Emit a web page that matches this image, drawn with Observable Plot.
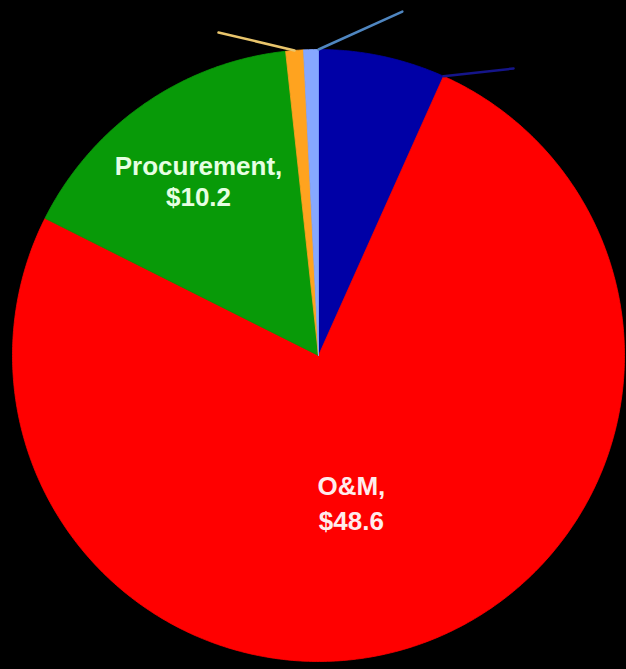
<!DOCTYPE html>
<html><head><meta charset="utf-8">
<script src="https://cdn.jsdelivr.net/npm/d3@7"></script>
<script src="https://cdn.jsdelivr.net/npm/@observablehq/plot@0.6"></script>
<style>html,body{margin:0;padding:0;background:#000;overflow:hidden;}</style>
</head><body><div id="chart"></div>
<script>
// Data (clockwise from 12 o'clock)
const categories = ["RDT&E", "O&M", "Procurement", "MILCON", "Family Housing"];
const values = [4.3, 48.6, 10.2, 0.6, 0.5];
const colors = ["#0000a6", "#ff0000", "#089a08", "#ffa31f", "#86a8ff"];
const labelTexts = ["", "O&M,\n$48.6", "Procurement,\n$10.2", "", ""];
const labelColors = ["#fff", "#ffecec", "#e6ffe2", "#fff", "#fff"];
// label anchor in polar form: angle (deg, clockwise from top), radius fraction
const labelAngles = [0, 167.3, -34.4, 0, 0];
const labelRadii = [0, 0.489, 0.694, 0, 0];
const labelLineHeights = [1.2, 1.36, 1.19, 1.2, 1.2];
// leader lines for the small slices (labels fall outside the frame)
const leaderCats = ["MILCON", "Family Housing", "RDT&E"];
const leaderStartAt = ["mid", "end", "end"];
const leaderEndAngles = [-17.2, 13.7, 34.2];
const leaderEndRadii = [1.105, 1.157, 1.134];
const leaderColors = ["#e9c56c", "#4f86c0", "#15158a"];

const W = 626, H = 669, cx = 318, cy = 355, R = 306;

const arcs = d3.pie().sort(null).value(d => d).startAngle(0).endAngle(2 * Math.PI)(values);
const pt = (a, r) => ({x: r * Math.sin(a), y: r * Math.cos(a)});

const marks = [];
arcs.forEach((arc, i) => {
  const pts = [{...pt(0, 0)}];
  const n = Math.max(2, Math.ceil((arc.endAngle - arc.startAngle) / (Math.PI / 360)));
  for (let k = 0; k <= n; k++) {
    const a = arc.startAngle + (arc.endAngle - arc.startAngle) * k / n;
    pts.push(pt(a, 1));
  }
  pts.push(pt(0, 0));
  marks.push(Plot.line(pts, {x: "x", y: "y", fill: colors[i], stroke: colors[i], strokeWidth: 0.8, curve: "linear"}));
});

const leaders = leaderCats.map((c, j) => {
  const arc = arcs[categories.indexOf(c)];
  const a0 = leaderStartAt[j] === "mid" ? (arc.startAngle + arc.endAngle) / 2 : arc.endAngle;
  const a1 = leaderEndAngles[j] * Math.PI / 180;
  return [pt(a0, 1), pt(a1, leaderEndRadii[j])].map(p => ({...p, k: j}));
});
leaders.forEach((seg, j) => {
  marks.push(Plot.line(seg, {x: "x", y: "y", stroke: leaderColors[j], strokeWidth: 2.5}));
});

const labels = categories.map((c, i) => ({...pt(labelAngles[i] * Math.PI / 180, labelRadii[i]), text: labelTexts[i], i}))
  .filter(d => d.text);
labels.forEach(d => {
  marks.push(Plot.text([d], {x: "x", y: "y", text: "text", fill: labelColors[d.i], fontSize: 26, fontWeight: "bold",
    fontFamily: "'Liberation Sans', Arial, sans-serif", lineAnchor: "middle", textAnchor: "middle", lineHeight: labelLineHeights[d.i]}));
});

const chart = Plot.plot({
  width: W, height: H, margin: 0,
  style: {background: "#000", color: "#fff"},
  x: {domain: [-cx / R, (W - cx) / R], range: [0, W], axis: null},
  y: {domain: [-(H - cy) / R, cy / R], range: [H, 0], axis: null},
  marks
});
document.getElementById("chart").appendChild(chart);
</script>
</body></html>
